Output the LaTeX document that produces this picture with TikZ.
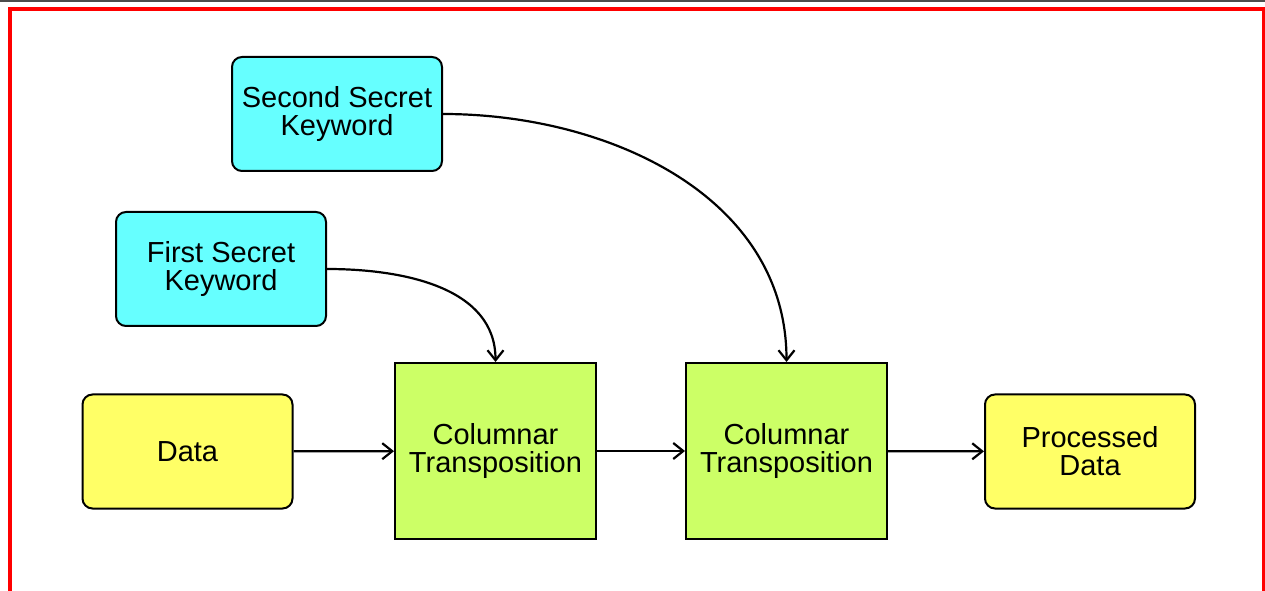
\documentclass[tikz,border=0pt]{standalone}
\usepackage{fontspec}
\setmainfont{Liberation Sans}
\usepackage{xcolor}
\usetikzlibrary{arrows.meta,positioning}
\definecolor{keycyan}{HTML}{66FFFF}
\definecolor{datayellow}{HTML}{FFFF66}
\definecolor{transgreen}{HTML}{CCFF66}

\begin{document}
\begin{tikzpicture}[
    x=0.5pt, y=0.5pt,
    >={Straight Barb[length=5pt,width=8pt]},
    every node/.style={font=\fontsize{14.5}{14}\selectfont, align=center, inner sep=0pt},
    keybox/.style={draw=black, line width=1pt, rounded corners=5pt, fill=keycyan, minimum width=105pt, minimum height=57pt},
    databox/.style={draw=black, line width=1pt, rounded corners=5pt, fill=datayellow, minimum width=105pt, minimum height=57pt},
    transbox/.style={draw=black, line width=1pt, fill=transgreen, minimum width=100.5pt, minimum height=88pt},
    flow/.style={->, line width=1.1pt, black}
  ]
  \useasboundingbox (0,0) rectangle (1265,590);
  % frame
  \draw[black!70, line width=1.5pt] (0,589) -- (1265,589);
  \draw[red, line width=2pt] (10,-20) -- (10,581) -- (1264,581) -- (1264,-20);
  % keys
  \node[keybox] (secondkey) at (337,476) {Second Secret\\Keyword};
  \node[keybox] (firstkey) at (221,321) {First Secret\\Keyword};
  % main chain
  \node[databox] (data) at (187.5,138.5) {Data};
  \node[transbox] (trans1) at (495.5,139) {Columnar\\Transposition};
  \node[transbox] (trans2) at (786.5,139) {Columnar\\Transposition};
  \node[databox] (processed) at (1090,138.5) {Processed\\Data};
  \draw[flow] (data) -- (trans1);
  \draw[flow] (trans1) -- (trans2);
  \draw[flow] (trans2) -- (processed);
  \draw[flow] (firstkey.east) to[out=0, in=90] (trans1.north);
  \draw[flow] (secondkey.east) to[out=0, in=90] (trans2.north);
\end{tikzpicture}
\end{document}
